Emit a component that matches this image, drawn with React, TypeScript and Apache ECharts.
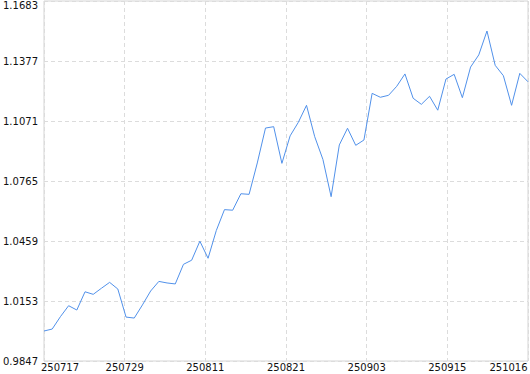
import React, { useEffect, useRef } from "react";
import * as echarts from "echarts";

const dates = [
  "250717", "250718", "250721", "250722", "250723", "250724", "250725", "250728", "250729", "250730", "250731",
  "250801", "250804", "250805", "250806", "250807", "250808", "250811", "250812", "250813", "250814", "250815",
  "250818", "250819", "250820", "250821", "250822", "250825", "250826", "250827", "250828", "250829",
  "250901", "250902", "250903", "250904", "250905", "250908", "250909", "250910", "250911", "250912",
  "250915", "250916", "250917", "250918", "250919", "250922", "250923", "250924", "250925", "250926",
  "250929", "250930", "251009", "251010", "251013", "251014", "251015", "251016",
];

const values = [
  1.0, 1.001, 1.0073, 1.0129, 1.0107, 1.02, 1.0187, 1.0218, 1.0248, 1.0214,
  1.0071, 1.0066, 1.0133, 1.0204, 1.0253, 1.0245, 1.024, 1.034, 1.0361, 1.0458,
  1.0371, 1.0512, 1.0619, 1.0616, 1.07, 1.0697, 1.0857, 1.1035, 1.1042, 1.0855,
  1.0995, 1.1064, 1.1151, 1.0991, 1.0875, 1.0685, 1.0949, 1.1034, 1.0947, 1.0974,
  1.1212, 1.1192, 1.1202, 1.1248, 1.1311, 1.1187, 1.1156, 1.1197, 1.1126, 1.1285,
  1.1309, 1.119, 1.1346, 1.1408, 1.153, 1.1355, 1.1302, 1.1151, 1.1314, 1.1271,
];

const yTickLabels = ["0.9847", "1.0153", "1.0459", "1.0765", "1.1071", "1.1377", "1.1683"];
const xTickLabels = ["250717", "250729", "250811", "250821", "250903", "250915", "251016"];

const FONT = "DejaVu Sans";

export default function App() {
  const ref = useRef<HTMLDivElement>(null);
  useEffect(() => {
    if (!ref.current) return;
    const chart = echarts.init(ref.current, undefined, { renderer: "svg" });
    const yMin = Number(yTickLabels[0]);
    const yMax = Number(yTickLabels[yTickLabels.length - 1]);
    const labelStyle = { color: "#111", fontFamily: FONT, fontSize: 10 };
    const dashed = { show: true, lineStyle: { color: "#dcdcdc", type: [4, 3] as any, width: 1 } };
    chart.setOption({
      animation: false,
      backgroundColor: "#fff",
      grid: {
        left: 44,
        right: 2,
        top: 1,
        bottom: 13,
        show: true,
        borderColor: "#d4d4d4",
        borderWidth: 1,
        containLabel: false,
        outerBoundsMode: "none",
      },
      xAxis: [
        {
          type: "category",
          data: dates,
          boundaryGap: false,
          axisLine: { show: false },
          axisTick: { show: false },
          axisLabel: { show: false },
          splitLine: { show: false },
        },
        {
          type: "value",
          min: 0,
          max: xTickLabels.length - 1,
          interval: 1,
          position: "bottom",
          axisLine: { show: false },
          axisTick: { show: false },
          splitLine: dashed,
          axisLabel: {
            ...labelStyle,
            margin: 1,
            formatter: (v: number) => {
              const i = Math.round(v);
              if (i === 0) return "{first|" + xTickLabels[i] + "}";
              if (i === xTickLabels.length - 1) return "{last|" + xTickLabels[i] + "}";
              return xTickLabels[i];
            },
            rich: {
              first: { ...labelStyle, padding: [0, 0, 0, 32] },
              last: { ...labelStyle, padding: [0, 39, 0, 0] },
            },
          },
        },
      ],
      yAxis: [
        {
          type: "value",
          min: yMin,
          max: yMax,
          axisLine: { show: false },
          axisTick: { show: false },
          axisLabel: { show: false },
          splitLine: { show: false },
        },
        {
          type: "value",
          min: 0,
          max: yTickLabels.length - 1,
          interval: 1,
          position: "left",
          axisLine: { show: false },
          axisTick: { show: false },
          splitLine: dashed,
          axisLabel: {
            ...labelStyle,
            margin: 6,
            formatter: (v: number) => {
              const i = Math.round(v);
              if (i === yTickLabels.length - 1) return "{top|" + yTickLabels[i] + "}";
              return yTickLabels[i];
            },
            rich: {
              top: { ...labelStyle, padding: [8, 0, 0, 0] },
            },
          },
        },
      ],
      series: [
        {
          type: "line",
          xAxisIndex: 0,
          yAxisIndex: 0,
          data: values,
          symbol: "none",
          lineStyle: { color: "#5191ea", width: 1 },
        },
      ],
    });
    return () => chart.dispose();
  }, []);
  return (
    <div
      ref={ref}
      style={{ position: "fixed", left: 0, top: 0, width: 530, height: 374, background: "#fff" }}
    />
  );
}
